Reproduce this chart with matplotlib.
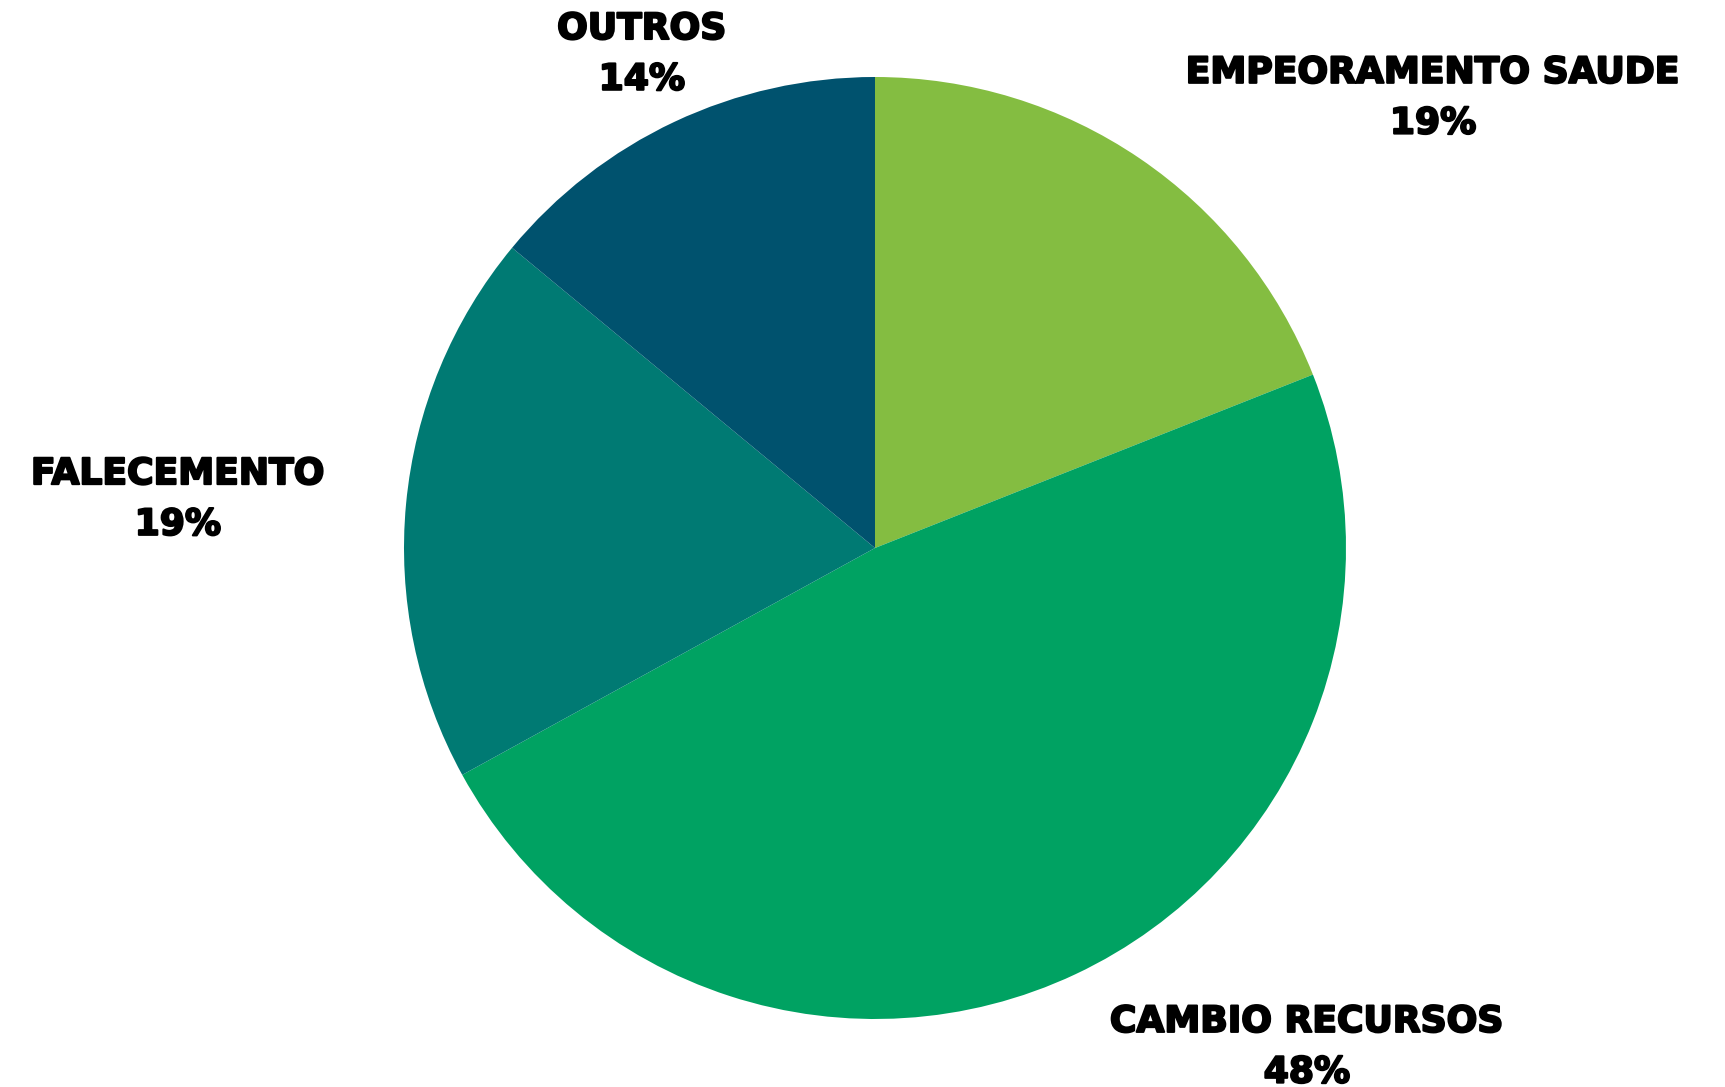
import matplotlib
matplotlib.use('Agg')
import matplotlib.pyplot as plt
import matplotlib.patheffects as pe

# dados
categorias = ['EMPEORAMENTO SAUDE', 'CAMBIO RECURSOS', 'FALECEMENTO', 'OUTROS']
valores = [19, 48, 19, 14]
cores = ['#84BD41', '#00A262', '#007A73', '#00526E']
# posicao das etiquetas (em unidades do raio)
pos_etiquetas = [(1.185, 0.955), (0.917, -1.06), (-1.48, 0.103), (-0.495, 1.048)]

W, H = 1725, 1087
fig = plt.figure(figsize=(W / 100, H / 100), dpi=100)
cx, cy, r = 875, 548, 471
ax = fig.add_axes([(cx - r) / W, (H - cy - r) / H, 2 * r / W, 2 * r / H])

ax.pie(valores, colors=cores, startangle=90, counterclock=False,
       wedgeprops=dict(linewidth=0), radius=1)
ax.set_xlim(-1, 1)
ax.set_ylim(-1, 1)
ax.set_aspect('equal')
ax.axis('off')

for cat, v, (x, y) in zip(categorias, valores, pos_etiquetas):
    ax.text(x, y, '%s\n%d%%' % (cat, v), ha='center', va='center',
            fontsize=26, fontweight='bold', family='DejaVu Sans',
            linespacing=1.62, clip_on=False, color='black',
            path_effects=[pe.withStroke(linewidth=1.5, foreground='black')])

fig.savefig('out.png', dpi=100)
